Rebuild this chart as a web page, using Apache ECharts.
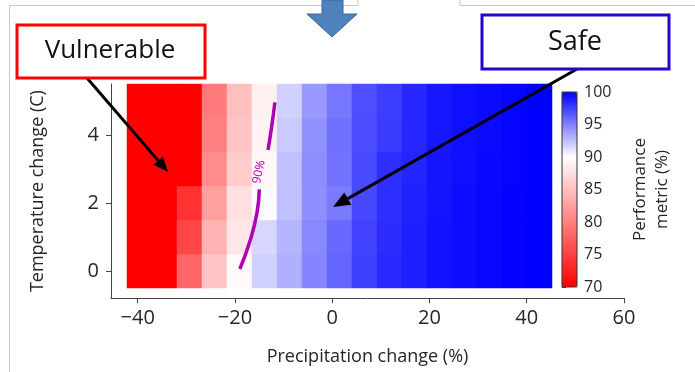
<!DOCTYPE html>
<html>
<head>
<meta charset="utf-8">
<script src="https://cdn.jsdelivr.net/npm/echarts@6/dist/echarts.min.js"></script>
<style>
  html, body { margin: 0; padding: 0; background: #fff; }
  #chart { width: 695px; height: 372px; }
</style>
</head>
<body>
<div id="chart"></div>
<script>
// precipitation change (%) columns, temperature change (C) rows
var precip = [-40, -35, -30, -25, -20, -15, -10, -5, 0, 5, 10, 15, 20, 25, 30, 35, 40];
var temp = [0, 1, 2, 3, 4, 5];

// performance metric (%), one list per temperature row
var perfT0 = [70, 70, 78, 85.5, 89.5, 91.8, 93.1, 94.8, 96.1, 97.5, 98.4, 98.8, 99.3, 99.5, 99.7, 99.9, 100];
var perfT1 = [70, 70, 75.5, 84, 88, 91.6, 92.9, 94.7, 95.9, 97.4, 98.3, 98.8, 99.3, 99.5, 99.7, 99.9, 100];
var perfT2 = [70, 70, 74, 82.5, 87.5, 90.2, 92.5, 94.4, 95.2, 97.2, 98.2, 98.7, 99.2, 99.5, 99.7, 99.9, 100];
var perfT3 = [70, 70, 70, 81, 86, 89.3, 92.5, 94.5, 95.5, 97.1, 98.2, 98.6, 99.2, 99.4, 99.7, 99.8, 100];
var perfT4 = [70, 70, 70, 80, 85.5, 89, 92.1, 94.3, 95.6, 97, 97.7, 98.5, 99.1, 99.4, 99.6, 99.8, 100];
var perfT5 = [70, 70, 70, 79.5, 85, 88.8, 91.8, 94, 95.4, 96.9, 97.6, 98.5, 99.1, 99.4, 99.6, 99.8, 100];
var perfRows = [perfT0, perfT1, perfT2, perfT3, perfT4, perfT5];

// 90% contour, [precip, temp]
var contourTop = [[-11.8, 4.96], [-12.4, 4.3], [-13.2, 3.56]];
var contourBottom = [[-15.0, 2.4], [-15.5, 1.69], [-16.9, 0.89], [-19.0, 0.06]];

var xTicks = [-40, -20, 0, 20, 40, 60];
var yTicks = [0, 2, 4];

var heatData = [];
perfRows.forEach(function (row, j) {
	row.forEach(function (v, i) {
		heatData.push([i, j, v]);
	});
});

function minus(v) {
	return v < 0 ? '\u2212' + (-v) : String(v);
}

function arrow(x1, y1, x2, y2, color, width, head) {
	var a = Math.atan2(y2 - y1, x2 - x1);
	var bx = x2 - head * Math.cos(a), by = y2 - head * Math.sin(a);
	var w = head * 0.42;
	return [{
		type: 'line', z: 100,
		shape: {x1: x1, y1: y1, x2: bx, y2: by},
		style: {stroke: color, lineWidth: width}
	}, {
		type: 'polygon', z: 100,
		shape: {points: [[x2, y2], [bx + w * Math.sin(a), by - w * Math.cos(a)], [bx - w * Math.sin(a), by + w * Math.cos(a)]]},
		style: {fill: color}
	}];
}

var axisColor = '#444';
var textColor = '#262626';
var font = 'Open Sans';

var chart = echarts.init(document.getElementById('chart'));

var graphics = [
	{type: 'polyline', z: 1, shape: {points: [[9.5, 372], [9.5, 5.5], [358, 5.5], [358, 0]]}, style: {stroke: '#c8c8c8', lineWidth: 1, fill: null}},
	{type: 'polyline', z: 1, shape: {points: [[460, 0], [460, 5.5], [695, 5.5]]}, style: {stroke: '#c8c8c8', lineWidth: 1, fill: null}},
	{type: 'polygon', z: 2, shape: {points: [[322, 0], [343, 0], [343, 14], [357, 14], [332, 37], [307, 14], [322, 14]]}, style: {fill: '#4f81bd', stroke: '#3c679b', lineWidth: 1}},
	{type: 'rect', z: 101, shape: {x: 17, y: 25, width: 188, height: 53}, style: {fill: '#fff', stroke: '#f00', lineWidth: 3}},
	{type: 'text', z: 102, x: 110, y: 51, style: {text: 'Vulnerable', font: '26px "Open Sans"', fill: '#111', align: 'center', verticalAlign: 'middle'}},
	{type: 'rect', z: 101, shape: {x: 482, y: 15, width: 187, height: 54}, style: {fill: '#fff', stroke: '#2a00cc', lineWidth: 3}},
	{type: 'text', z: 102, x: 575, y: 42, style: {text: 'Safe', font: '27px "Open Sans"', fill: '#111', align: 'center', verticalAlign: 'middle'}},
	{type: 'text', z: 100, x: 259, y: 172, rotation: 78 * Math.PI / 180, style: {text: '90%', font: '12px "Open Sans"', fill: '#b000b4', align: 'center', verticalAlign: 'middle'}}
];
graphics = graphics.concat(arrow(87, 78, 168, 172, '#000', 3, 15));
graphics = graphics.concat(arrow(577, 69, 333, 207, '#000', 3, 17));

var option = {
	animation: false,
	backgroundColor: '#fff',
	textStyle: {fontFamily: font},
	grid: [
		{left: 127, width: 425, top: 84, height: 204},
		{left: 111, width: 513, top: 84, height: 214.2},
		{left: 562, width: 15, top: 92, height: 195, show: true, borderColor: '#333', borderWidth: 1, backgroundColor: 'transparent', z: 5}
	],
	xAxis: [
		{gridIndex: 0, type: 'category', data: precip, show: false},
		{
			gridIndex: 1, type: 'value', min: -45.5, max: 60,
			name: 'Precipitation change (%)', nameLocation: 'middle', nameGap: 50,
			nameTextStyle: {fontSize: 18, color: textColor},
			axisLine: {show: true, onZero: false, lineStyle: {color: axisColor, width: 1}},
			axisTick: {show: true, customValues: xTicks, length: 5, lineStyle: {color: axisColor}},
			axisLabel: {customValues: xTicks, fontSize: 20, color: textColor, margin: 10, formatter: minus},
			splitLine: {show: false}
		},
		{gridIndex: 2, type: 'value', show: false}
	],
	yAxis: [
		{gridIndex: 0, type: 'category', data: temp, show: false},
		{
			gridIndex: 1, type: 'value', min: -0.8, max: 5.5,
			name: 'Temperature change (C)', nameLocation: 'middle', nameGap: 64, nameRotate: 90,
			nameTextStyle: {fontSize: 18, color: textColor},
			axisLine: {show: true, onZero: false, lineStyle: {color: axisColor, width: 1}},
			axisTick: {show: true, customValues: yTicks, length: 5, lineStyle: {color: axisColor}},
			axisLabel: {customValues: yTicks, fontSize: 20, color: textColor, margin: 12, formatter: minus},
			splitLine: {show: false}
		},
		{
			gridIndex: 2, type: 'value', min: 70, max: 100, interval: 5, position: 'right',
			name: 'Performance\nmetric (%)', nameLocation: 'middle', nameGap: 52, nameRotate: 90,
			nameTextStyle: {fontSize: 17, color: textColor, lineHeight: 22},
			axisLine: {show: true, lineStyle: {color: axisColor}},
			axisTick: {show: true, length: 4, lineStyle: {color: axisColor}},
			axisLabel: {fontSize: 16, color: textColor, margin: 7},
			splitLine: {show: false}
		}
	],
	visualMap: {
		type: 'continuous', seriesIndex: 0, min: 70, max: 100,
		calculable: false, left: 562, top: 92, itemWidth: 15, itemHeight: 195, padding: 0,
		inRange: {color: ['#ff0000', '#ff4040', '#ff8080', '#ffbfbf', '#ffffff', '#8080ff', '#0000ff']}
	},
	series: [{
		type: 'heatmap',
		xAxisIndex: 0, yAxisIndex: 0,
		data: heatData,
		emphasis: {disabled: true},
		itemStyle: {borderWidth: 0}
	}, {
		type: 'line', xAxisIndex: 1, yAxisIndex: 1,
		data: contourTop, smooth: true, symbol: 'none',
		lineStyle: {color: '#b000b4', width: 3.5}, z: 5
	}, {
		type: 'line', xAxisIndex: 1, yAxisIndex: 1,
		data: contourBottom, smooth: true, symbol: 'none',
		lineStyle: {color: '#b000b4', width: 3.5}, z: 5
	}],
	graphic: graphics
};

chart.setOption(option);
</script>
</body>
</html>
